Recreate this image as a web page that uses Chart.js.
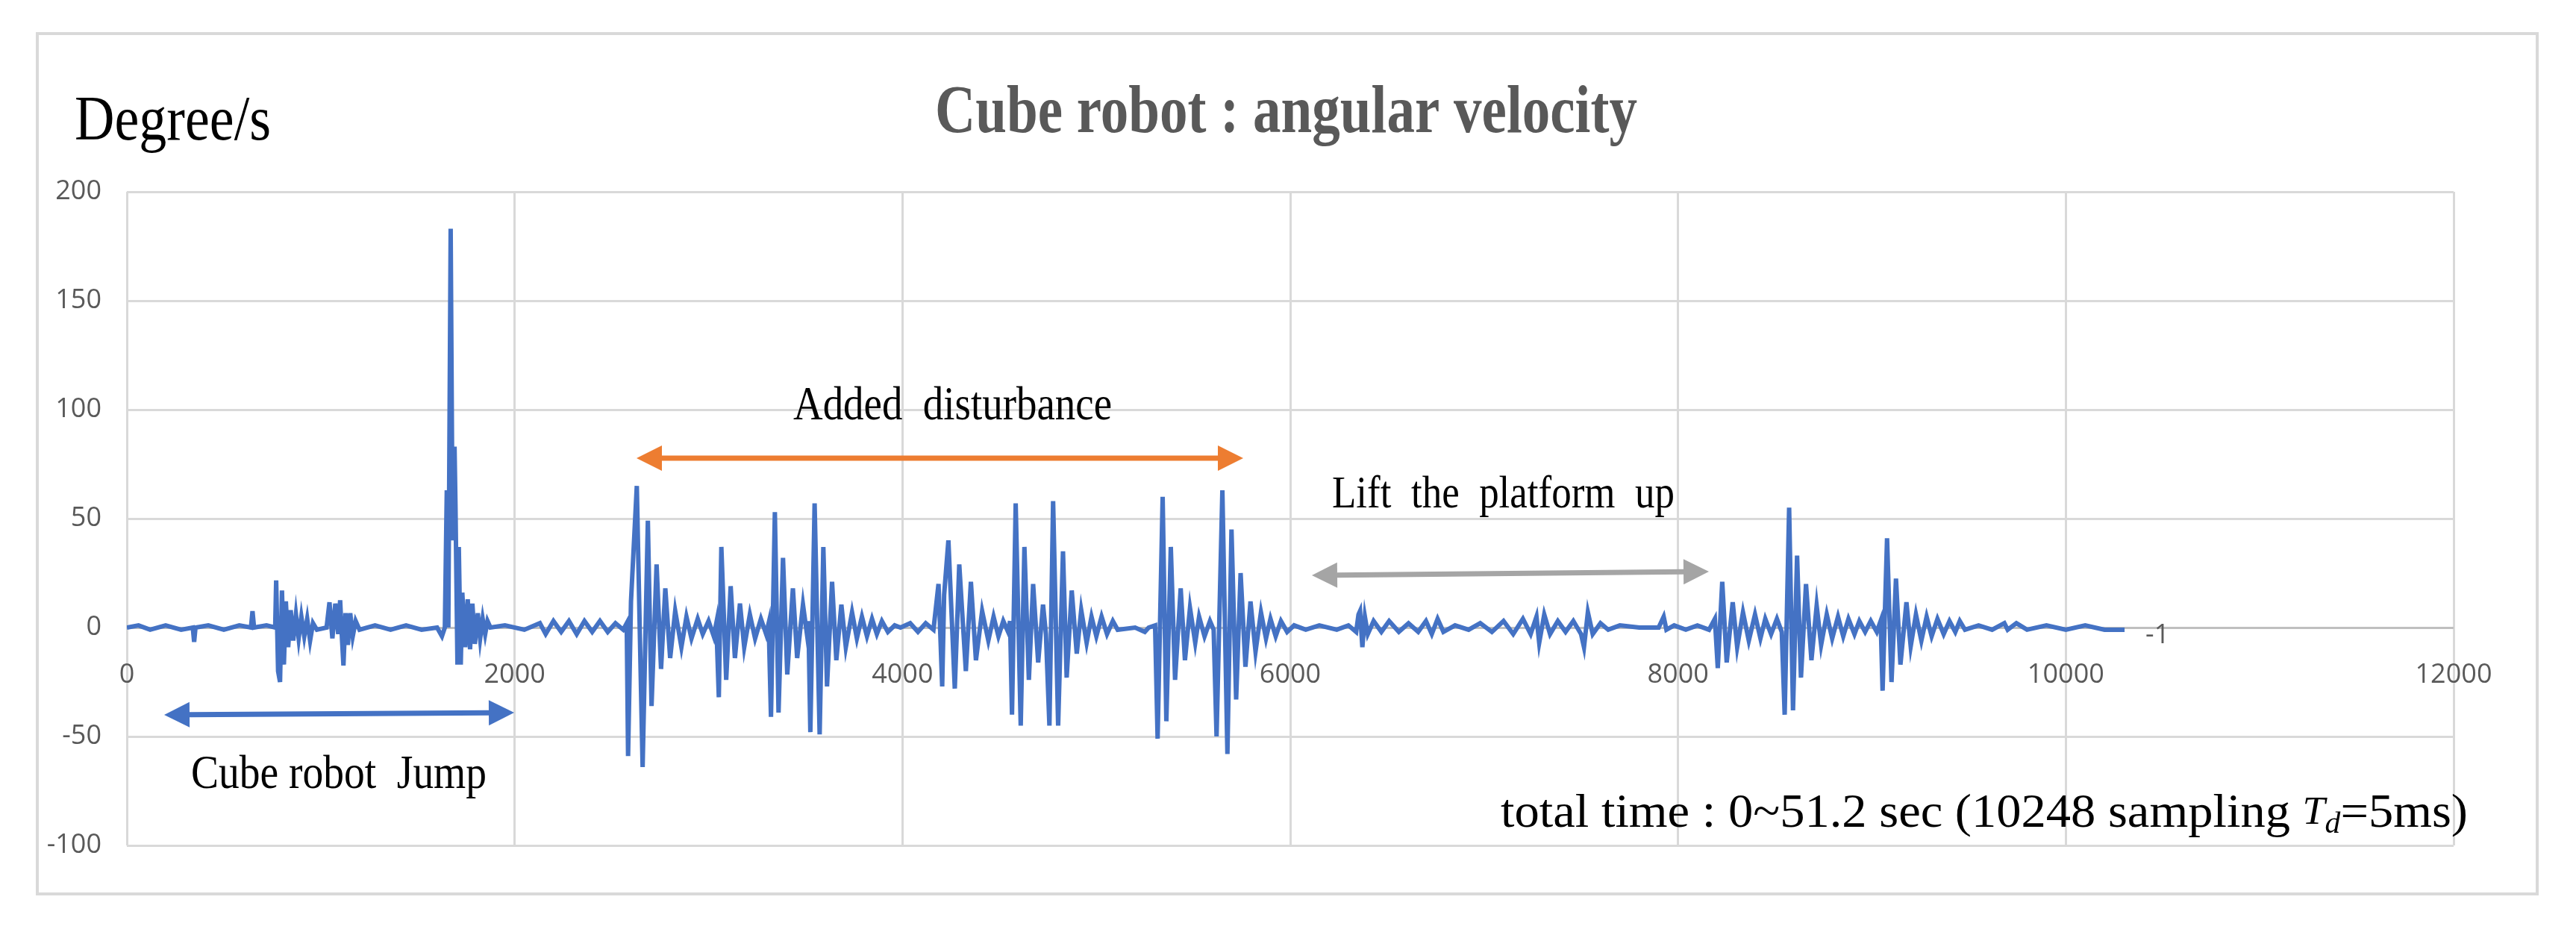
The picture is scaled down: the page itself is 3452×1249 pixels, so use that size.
<!DOCTYPE html>
<html>
<head>
<meta charset="utf-8">
<script src="https://cdn.jsdelivr.net/npm/chart.js@4.4.1/dist/chart.umd.min.js"></script>
<style>
  html, body { margin: 0; padding: 0; background: #fff; }
  canvas { display: block; }
</style>
</head>
<body>
<canvas id="chart" width="3452" height="1249"></canvas>
<script>
// sample index (5 ms per sample) and angular velocity
const sampleIndex = [
  0,60,120,200,280,340,347,354,420,500,580,640,648,656,720,765,770,780,790,800,810,820,832,845,858,872,886,900,915,930,945,960,980,
  1030,1045,1060,1075,1090,1100,1110,1117,1128,1140,1152,1165,1180,1200,1280,1360,1440,1520,1600,1625,1640,1650,1658,1670,1680,1690,1695,
  1705,1712,1722,1730,1745,1758,1770,1782,1795,1810,1822,1835,1848,1860,1875,1950,2050,2130,2160,2200,2240,2280,2320,2360,2400,2440,2480,
  2520,2560,2578,2585,2600,2630,2645,2660,2687,2706,2732,2755,2777,2802,2828,2860,2886,2912,2944,2970,3000,3027,3040,3053,3066,3091,3114,
  3136,3162,3184,3213,3240,3270,3297,3310,3322,3342,3361,3384,3406,3435,3457,3487,3509,3515,3525,3547,3573,3592,3611,3637,3659,3685,3708,
  3740,3765,3791,3817,3843,3868,3894,3925,3960,3990,4040,4080,4120,4160,4186,4205,4215,4237,4270,4293,4327,4353,4379,4411,4443,4470,4495,
  4520,4545,4555,4565,4584,4610,4629,4652,4674,4700,4725,4740,4758,4777,4803,4828,4847,4873,4899,4922,4950,4975,5000,5027,5055,5085,5110,
  5200,5250,5270,5303,5316,5342,5361,5384,5406,5435,5457,5483,5510,5530,5558,5586,5605,5620,5650,5676,5697,5721,5744,5769,5795,5821,5849,
  5875,5898,5925,5952,5984,6020,6080,6150,6240,6300,6340,6352,6360,6372,6385,6400,6430,6470,6510,6560,6610,6660,6700,6730,6760,6790,6850,
  6920,6980,7040,7100,7150,7200,7240,7270,7284,7310,7340,7380,7420,7460,7500,7515,7535,7560,7600,7640,7700,7800,7900,7926,7940,7980,8040,
  8100,8160,8190,8205,8228,8251,8282,8305,8335,8365,8397,8425,8450,8480,8510,8535,8550,8573,8593,8614,8634,8660,8688,8715,8738,8767,8795,
  8825,8852,8879,8910,8935,8965,8994,9025,9045,9055,9078,9101,9124,9147,9178,9200,9227,9255,9282,9308,9338,9370,9400,9430,9453,9480,9550,
  9620,9683,9700,9745,9800,9900,10000,10100,10200,10303
];
const angularVelocity = [
  0,1,-1,1,-1,0,-6.6,0,1,-1,1,0,7.5,0,1,0,21.6,-20,-25,17,-17,12,-9,8,-6,6,-5,5,-4,4,-6,2,-1,
  0,11.6,-5,11,-3,12.5,-6,-17.4,6.6,-8,6.6,-4,3,-1,1,-1,1,-1,0,-4,0,63,0,183,40,83,55,
  -17,37,-17,16,-9,13,-10,11,-7.5,6.6,-5,4,-3,3,0,1,-1,2,-3,3,-2,3,-3,3,-2,3,-2,
  2,-1,2,-59,12,65,0,-64,49,-36,29,-19,18,-14,7.6,-9,5,-5,4,-3,3,-4,2,-32,37,-24,19,
  -14,11,-9,6,-5,4,-3,2,-41,53,-39,32,-21.5,18,-14,10.5,-4,3,-48,57,-49,37,-27,21,-15,10.5,-9,
  7,-5,5,-4,4,-3,3,-2,1,0,2,-2,2,-1,20,-27,15,40,-28,29,-20,21,-15,7.6,-6,5,-4,
  3,-2,3,-40,57,-45,37,-24,20,-16,10.5,-3,-45,58,-45,35,-23,17,-12,8,-7,5,-4,5,-3,3,-1,
  0,-2,0,1,-51,60,-43,37,-24,18,-15,9,-7,5,-4,3,-1,-50,63,-58,45,-33,25,-18,12,-11,7,
  -5,4,-4,3,-2,1,-1,1,-1,1,-2,6,7.6,-9,5,-3,3,-2,3,-2,2,-2,3,-3,4,-2,1,
  -1,2,-2,3,-3,4,-3,5,-7,6,-3,3,-2,3,-3,-9,7,-3,2,-1,1,0,0,5,-1,1,-1,
  1,-1,4,-18.6,21,-16,11.6,-9,7,-6,6,-5,4,-3,4,-2,-40,55,-38,33,-23,20,-15,10,-8,6,-5,
  5,-4,4,-3,3,-2,3,-2,3,-29,41,-25,22.5,-17,11.6,-8.6,6,-6,5,-4,4,-3,3,-2,3,-1,1,
  -1,2,-1,2,-1,1,-1,1,-1,-1
];
const xTicks = [0, 2000, 4000, 6000, 8000, 10000, 12000];
const yTicks = [-100, -50, 0, 50, 100, 150, 200];

const chartTitle = 'Cube robot : angular velocity';
const yUnit = 'Degree/s';
const noteJump = 'Cube robot  Jump';
const noteDisturb = 'Added  disturbance';
const noteLift = 'Lift  the  platform  up';
const noteTimeA = 'total time : 0~51.2 sec (10248 sampling ';
const noteTimeB = '=5ms)';

const points = sampleIndex.map((x, i) => ({ x: x, y: angularVelocity[i] }));

const serif = '"Liberation Serif", "DejaVu Serif", serif';
const sans = '"Open Sans", "Liberation Sans", sans-serif';

// text drawn to a target width (the original uses a narrow font)
function fitText(ctx, text, x, y, size, width, opts) {
  opts = opts || {};
  ctx.save();
  ctx.font = (opts.weight || '') + ' ' + size + 'px ' + serif;
  ctx.fillStyle = opts.color || '#000';
  ctx.textBaseline = 'alphabetic';
  ctx.textAlign = 'left';
  const w = ctx.measureText(text).width;
  ctx.translate(x, y);
  ctx.scale(width / w, 1);
  ctx.fillText(text, 0, 0);
  ctx.restore();
}

function arrow(ctx, x1, y1, x2, y2, color) {
  const head = 34, half = 17;
  const ang = Math.atan2(y2 - y1, x2 - x1);
  ctx.save();
  ctx.strokeStyle = color;
  ctx.fillStyle = color;
  ctx.lineWidth = 7;
  ctx.beginPath();
  ctx.moveTo(x1 + head * Math.cos(ang), y1 + head * Math.sin(ang));
  ctx.lineTo(x2 - head * Math.cos(ang), y2 - head * Math.sin(ang));
  ctx.stroke();
  [[x2, y2, ang], [x1, y1, ang + Math.PI]].forEach(([px, py, a]) => {
    ctx.beginPath();
    ctx.moveTo(px, py);
    ctx.lineTo(px - head * Math.cos(a) - half * Math.sin(a), py - head * Math.sin(a) + half * Math.cos(a));
    ctx.lineTo(px - head * Math.cos(a) + half * Math.sin(a), py - head * Math.sin(a) - half * Math.cos(a));
    ctx.closePath();
    ctx.fill();
  });
  ctx.restore();
}

const decorations = {
  id: 'decorations',
  beforeDraw(chart) {
    const ctx = chart.ctx;
    ctx.save();
    ctx.fillStyle = '#fff';
    ctx.fillRect(0, 0, chart.width, chart.height);
    ctx.strokeStyle = '#d9d9d9';
    ctx.lineWidth = 4;
    ctx.strokeRect(50, 45, 3350, 1153);
    ctx.restore();
  },
  afterDraw(chart) {
    const ctx = chart.ctx;
    const xs = chart.scales.x, ys = chart.scales.y;

    fitText(ctx, chartTitle, 1253, 177, 92, 941, { weight: 'bold', color: '#595959' });
    fitText(ctx, yUnit, 100, 187, 84, 263);

    fitText(ctx, noteDisturb, 1063, 562, 64, 427);
    fitText(ctx, noteLift, 1785, 680, 62, 459);
    fitText(ctx, noteJump, 256, 1056, 64, 396);

    // total time note with italic T_d
    ctx.save();
    ctx.font = '64px ' + serif;
    const wa = ctx.measureText(noteTimeA).width;
    const wb = ctx.measureText(noteTimeB).width;
    ctx.font = 'italic 52px ' + serif;
    const wt = ctx.measureText('T').width;
    ctx.font = 'italic 40px ' + serif;
    const wd = ctx.measureText('d').width;
    const total = wa + wb + wt + wd;
    const k = 1296 / total;
    ctx.translate(2011, 1108);
    ctx.scale(k, 1);
    ctx.fillStyle = '#000';
    ctx.font = '64px ' + serif;
    ctx.fillText(noteTimeA, 0, 0);
    ctx.font = 'italic 52px ' + serif;
    ctx.fillText('T', wa, -4);
    ctx.font = 'italic 40px ' + serif;
    ctx.fillText('d', wa + wt, 8);
    ctx.font = '64px ' + serif;
    ctx.fillText(noteTimeB, wa + wt + wd, 0);
    ctx.restore();

    arrow(ctx, 853, 614, 1666, 614, '#ED7D31');
    arrow(ctx, 1758, 771, 2290, 766, '#A5A5A5');
    arrow(ctx, 220, 958, 689, 955, '#4472C4');

    // data label on the last point
    const last = points[points.length - 1];
    ctx.save();
    ctx.font = '36px ' + sans;
    ctx.fillStyle = '#595959';
    ctx.textBaseline = 'middle';
    ctx.fillText(String(last.y), xs.getPixelForValue(last.x) + 28, ys.getPixelForValue(last.y) + 8);
    ctx.restore();
  }
};

new Chart(document.getElementById('chart'), {
  type: 'line',
  data: {
    datasets: [{
      data: points,
      borderColor: '#4472C4',
      borderWidth: 6,
      pointRadius: 0,
      tension: 0,
      fill: false
    }]
  },
  options: {
    responsive: false,
    animation: false,
    devicePixelRatio: 1,
    layout: { padding: { left: 0, right: 164, top: 257, bottom: 116 } },
    plugins: { legend: { display: false }, tooltip: { enabled: false } },
    scales: {
      x: {
        type: 'linear',
        position: { y: 0 },
        min: 0,
        max: 12000,
        afterBuildTicks: (axis) => { axis.ticks = xTicks.map(v => ({ value: v })); },
        grid: { color: '#d9d9d9', lineWidth: 3, drawTicks: false },
        border: { display: false },
        ticks: { color: '#595959', font: { size: 36, family: sans }, padding: 42, maxRotation: 0, callback: (v) => String(v) }
      },
      y: {
        min: -100,
        max: 200,
        afterBuildTicks: (axis) => { axis.ticks = yTicks.map(v => ({ value: v })); },
        afterFit: (axis) => { axis.width = 170; },
        grid: {
          color: (c) => c.tick && c.tick.value === 0 ? '#bfbfbf' : '#d9d9d9',
          lineWidth: 3,
          drawTicks: false
        },
        border: { display: false },
        ticks: { color: '#595959', font: { size: 36, family: sans }, padding: 34 }
      }
    }
  },
  plugins: [decorations]
});
</script>
</body>
</html>
